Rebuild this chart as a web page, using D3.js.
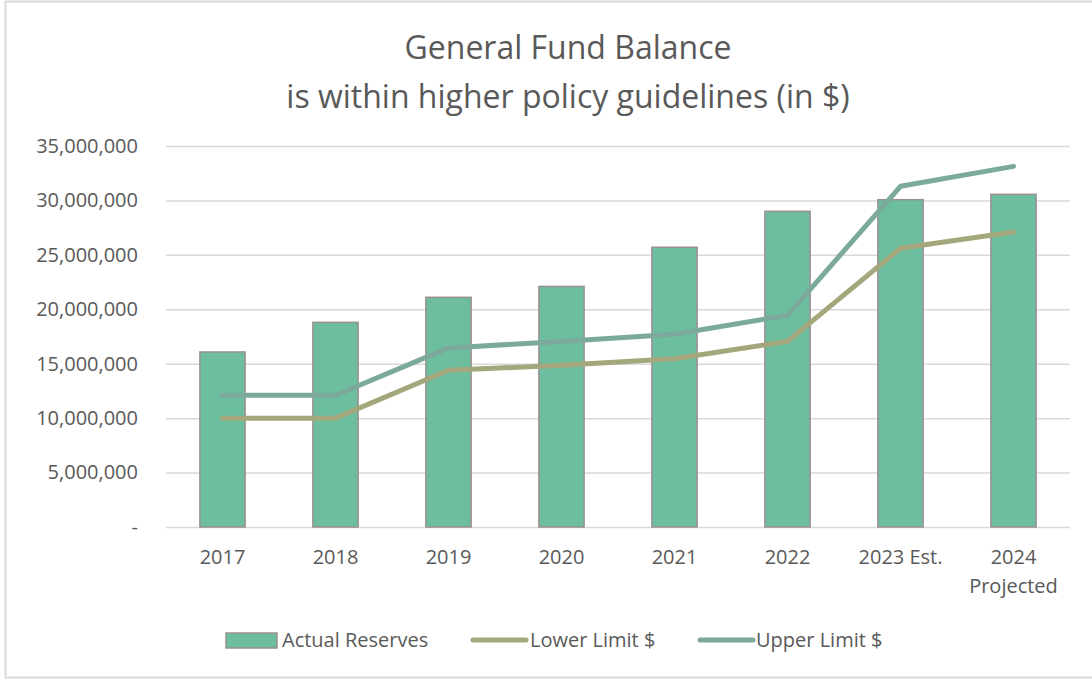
<!DOCTYPE html>
<html>
<head>
<meta charset="utf-8">
<script src="https://cdn.jsdelivr.net/npm/d3@7"></script>
<style>
  body { margin: 0; background: #fff; }
  svg text { font-family: "Open Sans", "Noto Sans", sans-serif; fill: #595959; }
</style>
</head>
<body>
<svg class="chart"></svg>
<script>
// values
const years = ['2017', '2018', '2019', '2020', '2021', '2022', '2023 Est.', '2024 Projected']
const actualReserves = [16080000, 18800000, 21100000, 22100000, 25700000, 29000000, 30070000, 30560000]
const lowerLimit = [10000000, 10000000, 14400000, 14850000, 15450000, 17050000, 25600000, 27100000]
const upperLimit = [12100000, 12100000, 16450000, 17050000, 17700000, 19450000, 31300000, 33130000]
const yTicks = [0, 5000000, 10000000, 15000000, 20000000, 25000000, 30000000, 35000000]

const palette = {
    bar: '#6DBD9F',
    barStroke: '#9A9090',
    lower: '#A4A77B',
    upper: '#7BAA9C',
    grid: '#D9D9D9',
    text: '#595959'
}

const drawChart = () => {

    const width = 1092
    const height = 679
    const margin = { top: 146, right: 22, bottom: 152, left: 166 }

    const svg = d3.select('.chart')
        .attr('width', width)
        .attr('height', height)

    // outer frame of the chart area
    svg.append('rect')
        .attr('x', 5.5)
        .attr('y', 1.5)
        .attr('width', 1100)
        .attr('height', 676)
        .attr('fill', 'none')
        .attr('stroke', palette.grid)
        .attr('stroke-width', 2)

    // title, two lines
    const title = svg.append('text')
        .attr('text-anchor', 'middle')
        .attr('font-size', 32)
    title.append('tspan').attr('x', 568).attr('y', 59).text('General Fund Balance')
    title.append('tspan').attr('x', 568).attr('y', 108).text('is within higher policy guidelines (in $)')

    const xScale = d3.scaleBand()
        .domain(years)
        .range([margin.left, width - margin.right])
        .paddingInner(0.6)
        .paddingOuter(0.3)

    const yScale = d3.scaleLinear()
        .domain([0, 35000000])
        .range([height - margin.bottom, margin.top])

    // gridlines + y labels
    const yAxis = d3.axisLeft(yScale)
        .tickValues(yTicks)
        .tickSize(-(width - margin.left - margin.right))
        .tickPadding(28)
        .tickFormat(d => d === 0 ? '-' : d3.format(',')(d))

    svg.append('g')
        .attr('transform', `translate(${margin.left},0)`)
        .call(yAxis)
        .call(g => g.select('.domain').remove())
        .call(g => g.selectAll('line').attr('stroke', palette.grid).attr('stroke-width', 1.5))
        .call(g => g.selectAll('text').attr('font-size', 20).attr('fill', palette.text)
            .attr('font-family', '"Open Sans", sans-serif'))

    // bars
    svg.append('g')
        .selectAll('rect')
        .data(actualReserves)
        .enter()
        .append('rect')
        .attr('x', (d, i) => xScale(years[i]))
        .attr('y', d => yScale(d))
        .attr('width', xScale.bandwidth())
        .attr('height', d => yScale(0) - yScale(d))
        .attr('fill', palette.bar)
        .attr('stroke', palette.barStroke)
        .attr('stroke-width', 1.5)

    const cx = i => xScale(years[i]) + xScale.bandwidth() / 2

    const line = d3.line()
        .x((d, i) => cx(i))
        .y(d => yScale(d))

    svg.append('path')
        .datum(lowerLimit)
        .attr('d', line)
        .attr('fill', 'none')
        .attr('stroke', palette.lower)
        .attr('stroke-width', 5)
        .attr('stroke-linecap', 'round')
        .attr('stroke-linejoin', 'round')

    svg.append('path')
        .datum(upperLimit)
        .attr('d', line)
        .attr('fill', 'none')
        .attr('stroke', palette.upper)
        .attr('stroke-width', 5)
        .attr('stroke-linecap', 'round')
        .attr('stroke-linejoin', 'round')

    // x labels (the last one wraps onto two lines)
    const xLabels = svg.append('g')
    years.forEach((y, i) => {
        const t = xLabels.append('text')
            .attr('text-anchor', 'middle')
            .attr('font-size', 20)
        const parts = y === '2024 Projected' ? ['2024', 'Projected'] : [y]
        parts.forEach((p, j) => {
            t.append('tspan').attr('x', cx(i)).attr('y', 564 + j * 29).text(p)
        })
    })

    // legend
    const legend = svg.append('g').attr('font-size', 20)
    legend.append('rect')
        .attr('x', 226).attr('y', 633).attr('width', 51).attr('height', 15)
        .attr('fill', palette.bar).attr('stroke', palette.barStroke).attr('stroke-width', 1.5)
    legend.append('text').attr('x', 282).attr('y', 647).text('Actual Reserves')

    legend.append('line')
        .attr('x1', 473).attr('x2', 526).attr('y1', 640).attr('y2', 640)
        .attr('stroke', palette.lower).attr('stroke-width', 5).attr('stroke-linecap', 'round')
    legend.append('text').attr('x', 530).attr('y', 647).text('Lower Limit $')

    legend.append('line')
        .attr('x1', 700).attr('x2', 753).attr('y1', 640).attr('y2', 640)
        .attr('stroke', palette.upper).attr('stroke-width', 5).attr('stroke-linecap', 'round')
    legend.append('text').attr('x', 756).attr('y', 647).text('Upper Limit $')
}

drawChart()
</script>
</body>
</html>
